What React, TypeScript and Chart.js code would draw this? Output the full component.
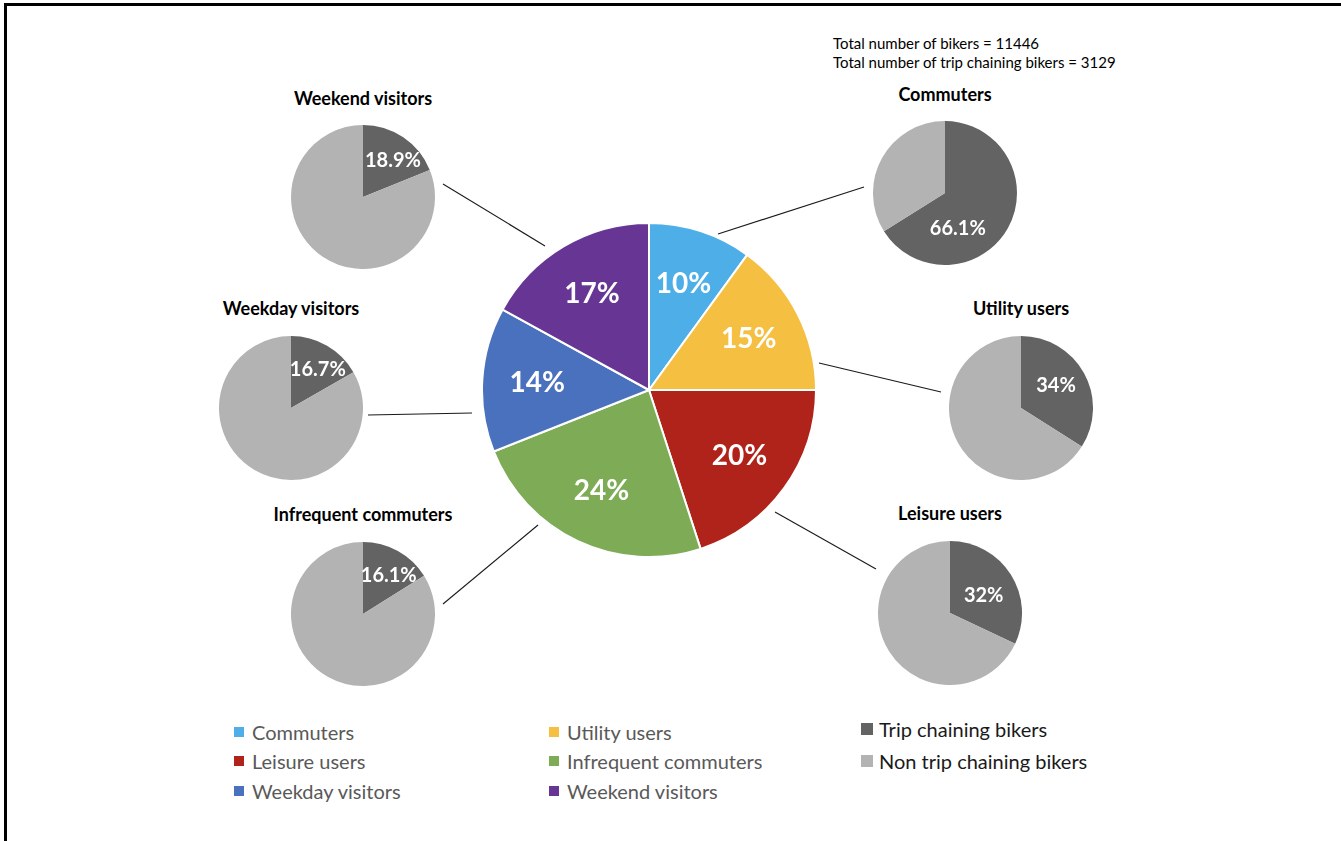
import React, { useEffect, useRef } from "react";
import { Chart, registerables } from "chart.js";

Chart.register(...registerables);

// ---------------- DATA ----------------
const segments = [
  "Commuters",
  "Utility users",
  "Leisure users",
  "Infrequent commuters",
  "Weekday visitors",
  "Weekend visitors",
];
const segmentShares = [10, 15, 20, 24, 14, 17];
const segmentColors = ["#4DAEE8", "#F5BF42", "#B0231A", "#7EAB55", "#4A71BD", "#673695"];

const tripChainingShares = [66.1, 34, 32, 16.1, 16.7, 18.9];
const nonTripChainingShares = [33.9, 66, 68, 83.9, 83.3, 81.1];
const breakdownLabels = ["Trip chaining bikers", "Non trip chaining bikers"];
const breakdownColors = ["#636363", "#B3B3B3"];

const totalsText = [
  "Total number of bikers = 11446",
  "Total number of trip chaining bikers = 3129",
];

// ---------------- LAYOUT ----------------
const FONT = "Lato, 'Open Sans', sans-serif";
const MAIN = { cx: 649, cy: 390, size: 336 };
const SMALL_SIZE = 144;
// per segment: small pie centre, title y, label polar position (deg clockwise from top, fraction of radius)
const smallLayout = [
  { cx: 945, cy: 193, titleY: 94, labelAngle: 160, labelFrac: 0.52 },
  { cx: 1021, cy: 408, titleY: 308, labelAngle: 57, labelFrac: 0.58 },
  { cx: 950, cy: 613, titleY: 513, labelAngle: 62, labelFrac: 0.53 },
  { cx: 363, cy: 614, titleY: 514, labelAngle: 34, labelFrac: 0.64 },
  { cx: 291, cy: 408, titleY: 308, labelAngle: 35, labelFrac: 0.65 },
  { cx: 363, cy: 197, titleY: 98, labelAngle: 39, labelFrac: 0.66 },
];
const connectors = [
  [718, 234, 864, 187],
  [819, 363, 941, 392],
  [775, 512, 876, 569],
  [538, 525, 443, 604],
  [368, 415, 472, 413],
  [443, 184, 545, 246],
];

type LabelOpts = {
  font: string;
  color: string;
  frac: number;
  angleDeg?: number;
  only?: number;
};

function sliceLabelPlugin(opts: LabelOpts) {
  return {
    id: "sliceLabels",
    afterDatasetsDraw(chart: any) {
      const ctx = chart.ctx;
      const meta = chart.getDatasetMeta(0);
      const values = chart.data.datasets[0].data as number[];
      ctx.save();
      ctx.fillStyle = opts.color;
      ctx.font = opts.font;
      ctx.textAlign = "center";
      ctx.textBaseline = "middle";
      meta.data.forEach((arc: any, i: number) => {
        if (opts.only != null && opts.only !== i) return;
        const p = arc.getProps(["x", "y", "startAngle", "endAngle", "outerRadius"], true);
        const a =
          opts.angleDeg != null
            ? ((opts.angleDeg - 90) * Math.PI) / 180
            : (p.startAngle + p.endAngle) / 2;
        const r = p.outerRadius * opts.frac;
        ctx.fillText(`${values[i]}%`, p.x + Math.cos(a) * r, p.y + Math.sin(a) * r);
      });
      ctx.restore();
    },
  };
}

function PieCanvas(props: {
  labels: string[];
  data: number[];
  colors: string[];
  borderWidth: number;
  size: number;
  cx: number;
  cy: number;
  label: LabelOpts;
}) {
  const ref = useRef<HTMLCanvasElement>(null);
  useEffect(() => {
    if (!ref.current) return;
    const chart = new Chart(ref.current, {
      type: "pie",
      data: {
        labels: props.labels,
        datasets: [
          {
            data: props.data,
            backgroundColor: props.colors,
            borderColor: "#FFFFFF",
            borderWidth: props.borderWidth,
          },
        ],
      },
      options: {
        responsive: false,
        animation: false,
        devicePixelRatio: 1,
        layout: { padding: 0 },
        plugins: { legend: { display: false }, tooltip: { enabled: false } },
      },
      plugins: [sliceLabelPlugin(props.label)],
    });
    return () => chart.destroy();
  }, []);
  return (
    <canvas
      ref={ref}
      width={props.size}
      height={props.size}
      style={{
        position: "absolute",
        left: props.cx - props.size / 2,
        top: props.cy - props.size / 2,
        width: props.size,
        height: props.size,
      }}
    />
  );
}

const centered = (x: number, y: number): React.CSSProperties => ({
  position: "absolute",
  left: x,
  top: y,
  transform: "translate(-50%, -50%)",
  whiteSpace: "nowrap",
});

export default function App() {
  const legendRowsY = [732, 761, 791];
  const legendColsX = [234, 549];
  return (
    <div
      style={{
        position: "fixed",
        left: 0,
        top: 0,
        width: 1341,
        height: 841,
        overflow: "hidden",
        background: "#FFFFFF",
        fontFamily: FONT,
      }}
    >
      {/* frame */}
      <div
        style={{
          position: "absolute",
          left: 4,
          top: 3,
          width: 1400,
          height: 900,
          borderTop: "3px solid #000",
          borderLeft: "3px solid #000",
        }}
      />

      {/* connectors */}
      <svg width={1341} height={841} style={{ position: "absolute", left: 0, top: 0 }}>
        {connectors.map((c, i) => (
          <line key={i} x1={c[0]} y1={c[1]} x2={c[2]} y2={c[3]} stroke="#1a1a1a" strokeWidth={1.1} />
        ))}
      </svg>

      {/* main pie */}
      <PieCanvas
        labels={segments}
        data={segmentShares}
        colors={segmentColors}
        borderWidth={2}
        size={MAIN.size}
        cx={MAIN.cx}
        cy={MAIN.cy}
        label={{ font: `bold 28px ${FONT}`, color: "#FFFFFF", frac: 0.67 }}
      />

      {/* small pies */}
      {segments.map((name, i) => {
        const L = smallLayout[i];
        return (
          <React.Fragment key={name}>
            <div
              style={{
                ...centered(L.cx, L.titleY),
                fontWeight: 700,
                fontSize: 18,
                color: "#000",
              }}
            >
              {name}
            </div>
            <PieCanvas
              labels={breakdownLabels}
              data={[tripChainingShares[i], nonTripChainingShares[i]]}
              colors={breakdownColors}
              borderWidth={0}
              size={SMALL_SIZE}
              cx={L.cx}
              cy={L.cy}
              label={{
                font: `bold 20px ${FONT}`,
                color: "#FFFFFF",
                frac: L.labelFrac,
                angleDeg: L.labelAngle,
                only: 0,
              }}
            />
          </React.Fragment>
        );
      })}

      {/* totals */}
      {totalsText.map((t, i) => (
        <div
          key={t}
          style={{
            position: "absolute",
            left: 833,
            top: 43 + i * 19,
            transform: "translateY(-50%)",
            fontSize: 15,
            color: "#000",
            whiteSpace: "nowrap",
          }}
        >
          {t}
        </div>
      ))}

      {/* segment legend */}
      {segments.map((name, i) => {
        const col = i % 2;
        const row = Math.floor(i / 2);
        return (
          <div
            key={name}
            style={{
              position: "absolute",
              left: legendColsX[col],
              top: legendRowsY[row],
              transform: "translateY(-50%)",
              display: "flex",
              alignItems: "center",
              whiteSpace: "nowrap",
            }}
          >
            <span
              style={{
                display: "inline-block",
                width: 10,
                height: 10,
                background: segmentColors[i],
                marginRight: 8,
              }}
            />
            <span style={{ fontSize: 20, color: "#595959" }}>{name}</span>
          </div>
        );
      })}

      {/* breakdown legend */}
      {breakdownLabels.map((name, i) => (
        <div
          key={name}
          style={{
            position: "absolute",
            left: 861,
            top: 729 + i * 32,
            transform: "translateY(-50%)",
            display: "flex",
            alignItems: "center",
            whiteSpace: "nowrap",
          }}
        >
          <span
            style={{
              display: "inline-block",
              width: 12,
              height: 12,
              background: breakdownColors[i],
              marginRight: 6,
            }}
          />
          <span style={{ fontSize: 20, color: "#1a1a1a" }}>{name}</span>
        </div>
      ))}
    </div>
  );
}
